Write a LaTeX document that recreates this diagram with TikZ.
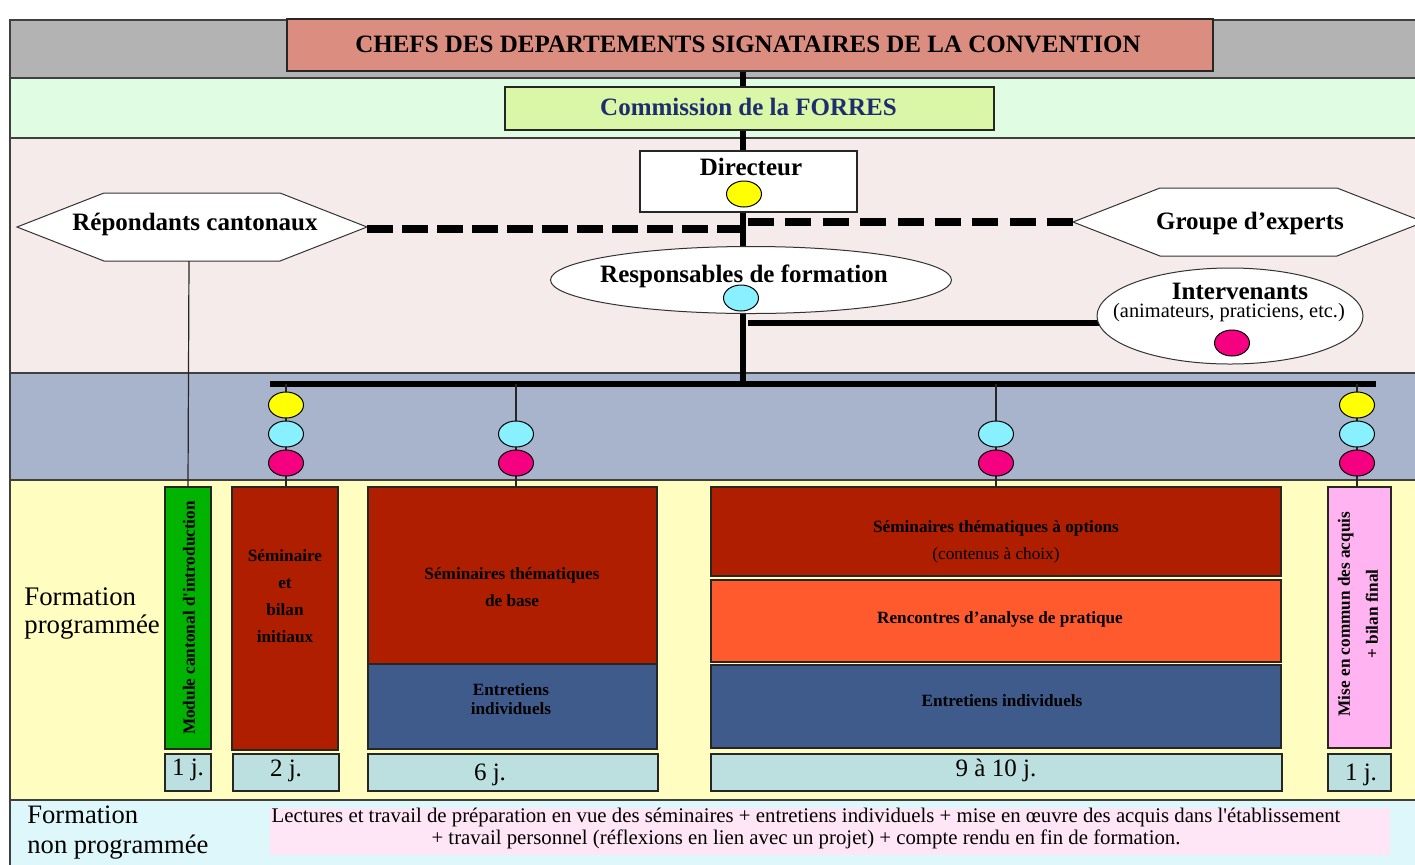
\documentclass[tikz,border=0pt]{standalone}
\usepackage{fontspec}
\setmainfont{Liberation Serif}
\usetikzlibrary{shapes.geometric}
\definecolor{bgray}{HTML}{B3B3B3}
\definecolor{titlered}{HTML}{DB8D80}
\definecolor{bgreen}{HTML}{E0FDE4}
\definecolor{commfill}{HTML}{D9F7A6}
\definecolor{commtext}{HTML}{1F2D6E}
\definecolor{bpink}{HTML}{F5EBEB}
\definecolor{bblue}{HTML}{A7B4CB}
\definecolor{byellow}{HTML}{FFFDBF}
\definecolor{bcyan}{HTML}{DDF7FA}
\definecolor{modgreen}{HTML}{00B300}
\definecolor{dred}{HTML}{B01E00}
\definecolor{dblue}{HTML}{3F5B8C}
\definecolor{orng}{HTML}{FF5A2E}
\definecolor{pinkbox}{HTML}{FFB3F0}
\definecolor{durfill}{HTML}{BCDFE0}
\definecolor{txtpink}{HTML}{FFE6F6}
\definecolor{dotY}{HTML}{FFFF00}
\definecolor{dotC}{HTML}{88F0FF}
\definecolor{dotM}{HTML}{F50080}
\newcommand\fz[2]{\fontsize{#1}{#2}\selectfont}
\tikzset{
  band/.style={draw=black!75, line width=0.8pt},
  boxn/.style={draw=black!85, line width=0.6pt, rectangle, inner sep=0pt},
  lbl/.style={inner sep=0pt, font=\bfseries\fz{12.5}{15}},
  dot/.style={ellipse, draw=black, line width=0.5pt, minimum width=17.5pt, minimum height=13pt, inner sep=0pt},
  thickline/.style={line width=3pt},
  dashleft/.style={line width=3.6pt, dash pattern=on 13pt off 4.5pt},
  dashright/.style={line width=3.6pt, dash pattern=on 13pt off 5.7pt},
  thinline/.style={line width=0.6pt, draw=black!85},
  boxtext/.style={font=\bfseries\fz{8.6}{13.4}, align=center, inner sep=0pt},
  durtext/.style={font=\fz{12.5}{14}, inner sep=0pt},
}
\begin{document}
\begin{tikzpicture}[x=0.5pt,y=-0.5pt]
\useasboundingbox (0,0) rectangle (1415,864);
\fill[white] (0,0) rectangle (1415,864);
% bands
\filldraw[band, fill=bgray] (10,20) rectangle (1430,78);
\filldraw[band, fill=bgreen] (10,78) rectangle (1430,138);
\filldraw[band, fill=bpink] (10,138) rectangle (1430,373);
\filldraw[band, fill=bblue] (10,373) rectangle (1430,480);
\filldraw[band, fill=byellow] (10,480) rectangle (1430,800);
\filldraw[band, fill=bcyan] (10,800) rectangle (1430,875);

% coordinates used by connectors
\coordinate (bartop) at (743,384);
\coordinate (barL) at (270,384);
\coordinate (barR) at (1376,384);
\coordinate (repR) at (367,229);
\coordinate (repB) at (189,261);
\coordinate (gexL) at (1073,222);
\coordinate (dashR0) at (748,222);
\coordinate (intL0) at (748,323);

% hexagons
\filldraw[fill=white, draw=black!80, line width=0.5pt]
  (17,227) -- (104,193) -- (280,193) -- (367,227) -- (280,261) -- (104,261) -- cycle;
\filldraw[fill=white, draw=black!80, line width=0.5pt]
  (1073,222) -- (1160,188) -- (1337,188) -- (1424,222) -- (1337,256) -- (1160,256) -- cycle;

% boxes of the lower part
\node[boxn, fill=modgreen, minimum width=23pt, minimum height=131pt] (mod) at (188,618) {};
\node[boxn, fill=dred, minimum width=53pt, minimum height=131.5pt] (sem) at (285,618.5) {};
\node[boxn, fill=dred, minimum width=144.5pt, minimum height=88.5pt] (stb) at (512.5,575.5) {};
\node[boxn, fill=dblue, minimum width=144.5pt, minimum height=42.5pt] (ent1) at (512.5,706.5) {};
\node[boxn, fill=dred, minimum width=285pt, minimum height=44.5pt] (sto) at (996,531.5) {};
\node[boxn, fill=orng, minimum width=285pt, minimum height=41pt] (ren) at (996,621) {};
\node[boxn, fill=dblue, minimum width=285pt, minimum height=41.5pt] (ent2) at (996,706.5) {};
\node[boxn, fill=pinkbox, minimum width=31.5pt, minimum height=130.5pt] (mise) at (1359.5,617.5) {};

% main connectors
\node[boxn, fill=titlered, minimum width=463pt, minimum height=26pt] (title) at (750,45) {};
\draw[thickline] (title.south -| bartop) -- (bartop);
\draw[thickline] (barL) -- (barR);
\draw[dashleft] (repR) -- (repR -| bartop);
\draw[dashright] (dashR0) -- (gexL);
\draw[line width=2.6pt] (intL0) -- (1100,323);
\draw[thinline] (repB) -- (mod.north);
\draw[thinline] (286,384) -- (286,487);
\draw[thinline] (516,384) -- (516,487);
\draw[thinline] (996,384) -- (996,487);
\draw[thinline] (1357,384) -- (1357,487);

% header nodes
\node[lbl, font=\bfseries\fz{12.5}{15}] (titletxt) at (748,44) {CHEFS DES DEPARTEMENTS SIGNATAIRES DE LA CONVENTION};
\node[boxn, fill=commfill, minimum width=244.5pt, minimum height=21.5pt] (comm) at (749.5,108.5) {};
\node[lbl, text=commtext] (commtxt) at (748.5,107) {Commission de la FORRES};
\node[boxn, fill=white, minimum width=108.5pt, minimum height=30.5pt] (dir) at (748.5,181.5) {};
\node[lbl] (dirtxt) at (751,167) {Directeur};
\node[dot, fill=dotY] (dirdot) at (744,194) {};

\node[lbl] (rep) at (195,224) {Répondants cantonaux};
\node[lbl] (gex) at (1250,223) {Groupe d’experts};

\node[ellipse, draw=black!80, fill=white, line width=0.5pt, minimum width=200.5pt, minimum height=33.5pt, inner sep=0pt] (resp) at (751,280) {};
\node[lbl] (resptxt) at (744,276) {Responsables de formation};
\node[dot, fill=dotC] (respdot) at (741,298) {};

\node[ellipse, draw=black!80, fill=white, line width=0.5pt, minimum width=133pt, minimum height=48pt, inner sep=0pt] (int) at (1230,316) {};
\node[lbl] (inttxt) at (1240,291) {Intervenants};
\node[inner sep=0pt, font=\fz{10.2}{12}] (intsub) at (1229,313) {(animateurs, praticiens, etc.)};
\node[dot, fill=dotM] (intdot) at (1232,343) {};

% dots
\node[dot, fill=dotY] (a1) at (286,405) {};
\node[dot, fill=dotC] (a2) at (286,434) {};
\node[dot, fill=dotM] (a3) at (286,463) {};
\node[dot, fill=dotC] (b2) at (516,434) {};
\node[dot, fill=dotM] (b3) at (516,463) {};
\node[dot, fill=dotC] (c2) at (996,434) {};
\node[dot, fill=dotM] (c3) at (996,463) {};
\node[dot, fill=dotY] (d1) at (1357,405) {};
\node[dot, fill=dotC] (d2) at (1357,434) {};
\node[dot, fill=dotM] (d3) at (1357,463) {};

% box texts
\node[boxtext, rotate=90] (modtxt) at (189,618) {Module cantonal d\textquotesingle introduction};
\node[boxtext] (semtxt) at (285,596) {Séminaire\\et\\bilan\\initiaux};
\node[boxtext] (stbtxt) at (512,587) {Séminaires thématiques\\de base};
\node[boxtext, font=\bfseries\fz{8.6}{9.6}] (ent1txt) at (511,699) {Entretiens\\individuels};
\node[boxtext] (stotxt) at (996,528) {Séminaires thématiques à options};
\node[inner sep=0pt, font=\fz{8.6}{10}] (stosub) at (996,555) {(contenus à choix)};
\node[boxtext] (rentxt) at (1000,619) {Rencontres d’analyse de pratique};
\node[boxtext] (ent2txt) at (1002,701) {Entretiens individuels};
\node[boxtext, font=\bfseries\fz{8.6}{14}, rotate=90] (misetxt) at (1358,614) {Mise en commun des acquis\\+ bilan final};

% durations
\node[boxn, fill=durfill, minimum width=23pt, minimum height=18.5pt] (du1) at (188,772.5) {};
\node[boxn, fill=durfill, minimum width=53pt, minimum height=18.5pt] (du2) at (286,772.5) {};
\node[boxn, fill=durfill, minimum width=145pt, minimum height=18.5pt] (du3) at (513,772.5) {};
\node[boxn, fill=durfill, minimum width=285.5pt, minimum height=18.5pt] (du4) at (996.5,772.5) {};
\node[boxn, fill=durfill, minimum width=31.5pt, minimum height=18.5pt] (du5) at (1359.5,772.5) {};
\node[durtext] (du1t) at (188,770) {1 j.};
\node[durtext] (du2t) at (286,771) {2 j.};
\node[durtext] (du3t) at (490,775) {6 j.};
\node[durtext] (du4t) at (996,770) {9 à 10 j.};
\node[durtext] (du5t) at (1361,775) {1 j.};

% left labels
\node[inner sep=0pt, anchor=west, align=left, font=\fz{13.4}{14}] (fprog) at (24,614) {Formation\\programmée};
\node[inner sep=0pt, anchor=west, align=left, font=\fz{13.3}{15}] (fnprog) at (27,833) {Formation\\non programmée};

% bottom text box
\node[rectangle, fill=txtpink, minimum width=560pt, minimum height=23.5pt, inner sep=0pt] (lect) at (830,831.5) {};
\node[inner sep=0pt, align=center, font=\fz{10.4}{11}] (lecttxt) at (806,828) {Lectures et travail de préparation en vue des séminaires + entretiens individuels + mise en œuvre des acquis dans l\textquotesingle établissement\\+ travail personnel (réflexions en lien avec un projet) + compte rendu en fin de formation.};
\end{tikzpicture}
\end{document}
